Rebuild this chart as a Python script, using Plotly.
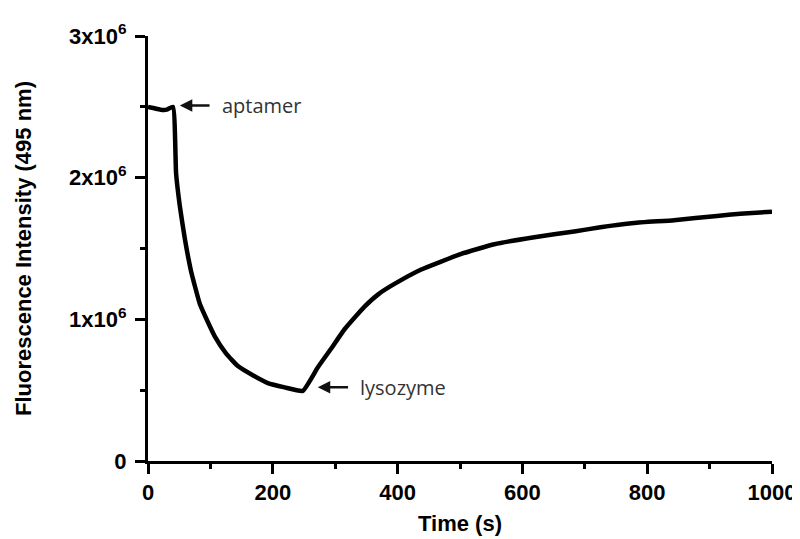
import plotly.graph_objects as go

# time (s) and fluorescence intensity at 495 nm
time_s = [0, 10, 20, 30, 40, 45, 51, 59, 69, 83, 95, 107, 125, 144, 170, 192, 219, 248,
          272, 293, 315, 347, 370, 395, 437, 501, 555, 619, 683, 725, 779, 843, 912, 949, 1000]
intensity = [2.50e6, 2.49e6, 2.48e6, 2.48e6, 2.50e6, 2.03e6, 1.80e6, 1.57e6, 1.34e6, 1.11e6,
             0.99e6, 0.88e6, 0.76e6, 0.67e6, 0.60e6, 0.55e6, 0.52e6, 0.495e6,
             0.66e6, 0.79e6, 0.93e6, 1.09e6, 1.18e6, 1.25e6, 1.35e6, 1.46e6, 1.53e6, 1.58e6,
             1.62e6, 1.65e6, 1.68e6, 1.70e6, 1.73e6, 1.745e6, 1.76e6]

x_ticks = [0, 200, 400, 600, 800, 1000]
y_ticks = [0, 1e6, 2e6, 3e6]
y_tick_text = ['0', '1x10<sup>6</sup>', '2x10<sup>6</sup>', '3x10<sup>6</sup>']

# arrow annotations: (label, arrow head x, y, arrow tail x)
markers = [('aptamer', 51, 2.51e6, 101),
           ('lysozyme', 272, 0.52e6, 323)]

fig = go.Figure()
fig.add_trace(go.Scatter(x=time_s, y=intensity, mode='lines',
                         line=dict(color='black', width=4.5, shape='spline', smoothing=0.4),
                         showlegend=False))

for label, hx, hy, tx in markers:
    fig.add_annotation(x=hx, y=hy, ax=tx, ay=hy, axref='x', ayref='y', text='',
                       showarrow=True, arrowhead=2, arrowsize=1, arrowwidth=2.5,
                       arrowcolor='#111')
    fig.add_annotation(x=tx + 14, y=hy, text=label, showarrow=False, xanchor='left',
                       font=dict(family='Open Sans', size=20, color='#333'))

tick_font = dict(family='Liberation Sans', size=22, color='black', weight='bold')
title_font = dict(family='Liberation Sans', size=22, color='black', weight='bold')

fig.update_xaxes(range=[0, 1000], tickvals=x_ticks, showline=True, linecolor='black',
                 linewidth=3, ticks='outside', ticklen=10, tickwidth=3, tickcolor='black',
                 minor=dict(dtick=100, ticks='outside', ticklen=5, tickwidth=3,
                            tickcolor='black'),
                 showgrid=False, zeroline=False, tickfont=tick_font,
                 title=dict(text='Time (s)', standoff=12, font=title_font))
fig.update_yaxes(range=[0, 3e6], tickvals=y_ticks, ticktext=y_tick_text, showline=True,
                 linecolor='black', linewidth=3, ticks='outside', ticklen=10, tickwidth=3,
                 tickcolor='black', ticklabelstandoff=4,
                 minor=dict(tickvals=[0.5e6, 1.5e6, 2.5e6], ticks='outside', ticklen=5,
                            tickwidth=3, tickcolor='black'),
                 showgrid=False, zeroline=False, tickfont=tick_font,
                 title=dict(text='Fluorescence Intensity (495 nm)', standoff=32,
                            font=title_font))

fig.update_layout(width=800, height=539, plot_bgcolor='white', paper_bgcolor='white',
                  margin=dict(l=140, r=35, t=21, b=86))

fig.write_html("out.html")
